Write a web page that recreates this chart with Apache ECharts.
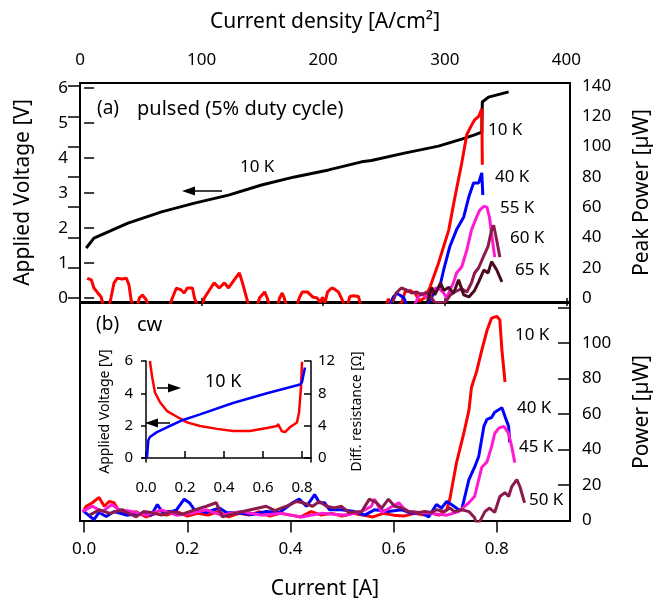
<!DOCTYPE html>
<html>
<head>
<meta charset="utf-8">
<script src="https://cdn.jsdelivr.net/npm/echarts@6.0.0/dist/echarts.min.js"></script>
<style>
  html, body { margin: 0; padding: 0; background: #fff; }
  #chart { width: 667px; height: 604px; }
</style>
</head>
<body>
<div id="chart"></div>
<script>
// tick labels
const densityTicks = [0, 100, 200, 300, 400];
const currentTicks = [0, 0.2, 0.4, 0.6, 0.8];
const voltTicks = [0, 1, 2, 3, 4, 5, 6];
const peakPowerTicks = [0, 20, 40, 60, 80, 100, 120, 140];
const cwPowerTicks = [0, 20, 40, 60, 80, 100, 120];
const cwPowerLabels = [0, 20, 40, 60, 80, 100];
const insetVoltTicks = [0, 2, 4, 6];
const insetResTicks = [0, 4, 8, 12];

// (a) pulsed: voltage at 10 K  [current A, voltage V]
const voltI = [0.004, 0.019, 0.085, 0.15, 0.214, 0.28, 0.344, 0.408, 0.474, 0.538, 0.557, 0.621, 0.687, 0.732, 0.757, 0.771, 0.772, 0.784, 0.823];
const voltV = [1.43, 1.71, 2.14, 2.46, 2.71, 2.94, 3.23, 3.46, 3.66, 3.89, 3.93, 4.14, 4.34, 4.54, 4.66, 4.74, 5.6, 5.74, 5.89];

// (a) pulsed peak power [current A, power uW]
const pulsed10K = [[0.006,13],[0.014,12],[0.019,6.6],[0.025,4],[0.033,0.7],[0.038,-6],[0.048,-6],[0.052,0],[0.058,10],[0.064,13],[0.074,12.5],[0.082,13],[0.087,8.6],[0.091,-1],[0.095,-6],[0.103,-6],[0.107,0],[0.113,2],[0.12,-1],[0.125,-6],[0.165,-6],[0.171,0],[0.179,6.6],[0.188,5.3],[0.194,3.3],[0.2,6.6],[0.21,6.6],[0.214,0],[0.22,-6],[0.228,-6],[0.233,0],[0.243,5.3],[0.252,10],[0.262,6.6],[0.272,10],[0.28,6.6],[0.291,12],[0.301,16.5],[0.307,10],[0.315,0],[0.32,-6],[0.335,-6],[0.34,0],[0.35,4],[0.355,0],[0.36,-6],[0.374,-6],[0.379,0],[0.384,3.3],[0.388,0],[0.393,-6],[0.412,-6],[0.417,0],[0.423,4],[0.433,4],[0.443,0.7],[0.452,0],[0.458,-3],[0.462,0.5],[0.467,-3],[0.472,4],[0.48,6.6],[0.485,6],[0.493,4],[0.5,-1],[0.506,-6],[0.51,-6],[0.515,1],[0.522,1.5],[0.532,1],[0.537,-6],[0.585,-6],[0.59,-0.5],[0.595,-6],[0.615,-4],[0.622,4],[0.632,5],[0.642,3],[0.65,-2],[0.66,0],[0.67,6.6],[0.687,23],[0.707,45],[0.718,65],[0.732,89],[0.742,108],[0.751,114],[0.757,117.6],[0.765,120],[0.771,125],[0.772,88]];
const pulsed40K = [[0.592,-5],[0.6,1],[0.606,3],[0.612,2],[0.62,0],[0.626,-5],[0.665,-5],[0.674,0.5],[0.68,5],[0.689,6.6],[0.697,18.5],[0.709,34],[0.722,45],[0.736,53.5],[0.746,67],[0.755,76],[0.765,76],[0.771,82.6],[0.773,68]];
const pulsed55K = [[0.64,-5],[0.648,0.7],[0.654,3.3],[0.664,0.5],[0.674,4],[0.683,6.6],[0.689,6],[0.697,3.3],[0.703,0],[0.709,5],[0.716,10],[0.722,16.5],[0.732,20.5],[0.742,31.7],[0.751,45],[0.761,53.5],[0.767,58],[0.775,60.5],[0.781,60],[0.786,53],[0.796,27]];
const pulsed60K = [[0.598,-3],[0.605,3.3],[0.615,6.6],[0.625,5.3],[0.635,3.3],[0.645,4],[0.654,2],[0.664,4],[0.672,1],[0.68,-3],[0.7,-3],[0.71,2],[0.718,4],[0.732,6],[0.742,4],[0.751,10],[0.757,16.5],[0.765,20],[0.775,28],[0.783,34],[0.79,45],[0.794,48],[0.8,38],[0.806,27]];
const pulsed65K = [[0.665,-3],[0.674,7],[0.68,2],[0.691,10],[0.697,5],[0.707,7],[0.716,3],[0.726,12],[0.736,2],[0.746,0.7],[0.757,5],[0.765,10.6],[0.775,18.5],[0.783,16.5],[0.79,24],[0.8,18.5],[0.81,10.6]];

// (b) cw power [current A, power uW]
const cw10K = [[0,6],[0.004,8],[0.016,10],[0.029,13],[0.039,8],[0.049,10.7],[0.058,10],[0.068,5],[0.082,3.4],[0.1,5],[0.12,2],[0.14,4],[0.16,3],[0.18,5],[0.2,2.5],[0.22,4],[0.24,3],[0.26,5],[0.28,2],[0.3,4],[0.32,3],[0.34,5],[0.36,2.5],[0.38,4],[0.4,3],[0.42,2],[0.44,5],[0.46,3],[0.48,4],[0.5,2.5],[0.52,4],[0.54,3],[0.56,2],[0.58,4],[0.6,3],[0.62,2.5],[0.64,4],[0.66,3],[0.674,4],[0.688,3],[0.703,6],[0.709,12],[0.722,32.6],[0.736,49],[0.746,62],[0.751,75],[0.761,84],[0.771,96],[0.781,107],[0.79,114],[0.8,115],[0.806,113],[0.81,96],[0.816,78]];
const cw40K = [[0,5],[0.019,0.5],[0.029,4.5],[0.043,2.2],[0.058,5],[0.082,3],[0.11,4],[0.13,3],[0.142,9],[0.151,5],[0.169,5],[0.179,6],[0.194,12],[0.204,10],[0.214,6],[0.237,4.5],[0.262,7],[0.276,4.5],[0.305,4],[0.326,3.4],[0.353,5],[0.379,4.5],[0.404,10],[0.417,12],[0.431,8],[0.447,14.6],[0.456,10],[0.466,10],[0.476,6],[0.499,6],[0.524,5],[0.544,3],[0.563,6],[0.59,5],[0.616,6],[0.635,4],[0.654,4.5],[0.668,2],[0.683,9],[0.693,7],[0.703,10.7],[0.717,8],[0.726,6],[0.732,6],[0.746,23],[0.757,30],[0.765,36],[0.775,53],[0.781,57],[0.79,58],[0.796,61],[0.81,63.5],[0.816,58.5],[0.823,53],[0.825,44]];
const cw45K = [[-0.004,5],[0.016,8],[0.035,5],[0.054,9],[0.068,6],[0.093,5],[0.12,3],[0.15,6],[0.179,3],[0.208,4],[0.237,6],[0.266,3],[0.305,5],[0.344,3],[0.383,4],[0.421,2],[0.46,4],[0.509,3],[0.538,5],[0.557,8],[0.563,12],[0.577,4.5],[0.61,10],[0.619,7],[0.629,5],[0.649,4.5],[0.674,4],[0.703,3],[0.726,5],[0.746,10],[0.757,13.5],[0.771,30],[0.781,33],[0.79,41.6],[0.796,49],[0.804,52],[0.814,53],[0.823,49],[0.829,41.6],[0.835,32.6]];
const cw50K = [[0.01,3],[0.03,6],[0.05,4],[0.074,6],[0.082,4.5],[0.101,2],[0.115,5],[0.13,4.5],[0.15,3],[0.17,5],[0.19,3.5],[0.214,6],[0.237,8],[0.256,10],[0.268,2],[0.299,4.5],[0.353,8],[0.37,5.5],[0.392,8],[0.412,10.7],[0.424,10],[0.443,8],[0.456,10.7],[0.47,8],[0.485,7],[0.499,8],[0.513,4.5],[0.538,5],[0.553,12],[0.567,10],[0.577,7],[0.59,12],[0.602,8],[0.616,7],[0.629,5],[0.649,4.5],[0.66,5],[0.674,4.5],[0.683,6],[0.699,5],[0.709,7],[0.718,5],[0.732,6],[0.746,5],[0.757,1.5],[0.762,-3],[0.77,1],[0.777,5],[0.786,7],[0.796,4.5],[0.806,13.5],[0.816,15.7],[0.823,13.5],[0.829,19],[0.839,23],[0.845,19],[0.852,11.8],[0.854,10]];

// inset: cw 10 K voltage and differential resistance
const insetVoltI = [0.005, 0.012, 0.02, 0.056, 0.108, 0.19, 0.277, 0.446, 0.62, 0.79, 0.8, 0.81, 0.815];
const insetVolt = [0, 1.1, 1.3, 1.6, 1.9, 2.35, 2.7, 3.4, 4.0, 4.55, 4.7, 5.3, 5.6];
const insetResI = [0.02, 0.031, 0.046, 0.072, 0.108, 0.159, 0.21, 0.277, 0.364, 0.446, 0.533, 0.62, 0.672, 0.677, 0.697, 0.713, 0.738, 0.774, 0.785, 0.795, 0.8];
const insetRes = [12, 10.1, 8.1, 6.9, 5.8, 5.1, 4.4, 3.95, 3.6, 3.33, 3.33, 3.7, 3.95, 4.2, 3.3, 3.2, 3.8, 4.4, 5.7, 8.9, 11.9];

const FONT = 'Noto Sans';
const zip = (xs, ys) => xs.map((x, i) => [x, ys[i]]);
const fmt1 = v => v.toFixed(1);

function line(data, color, xi, yi, width) {
  return {
    type: 'line', data, xAxisIndex: xi, yAxisIndex: yi,
    showSymbol: false, color, clip: true,
    lineStyle: { color, width: width || 3 },
  };
}

function text(str, x, y, size) {
  return {
    type: 'text', x, y, z: 100,
    style: { text: str, fill: '#000', font: `${size || 16}px "${FONT}"`, verticalAlign: 'middle' },
  };
}

function arrow(x1, x2, y) {
  const d = Math.sign(x2 - x1);
  return [
    { type: 'line', z: 100, shape: { x1, y1: y, x2: x2 - d * 8, y2: y }, style: { stroke: '#000', lineWidth: 1.5 } },
    { type: 'polygon', z: 100, shape: { points: [[x2, y], [x2 - d * 13, y - 4.5], [x2 - d * 13, y + 4.5]] }, style: { fill: '#000' } },
  ];
}

const tickLabel = { color: '#000', fontSize: 17, fontFamily: FONT };
const nameStyle = { color: '#000', fontSize: 21, fontFamily: FONT };
const insetName = { color: '#000', fontSize: 14, fontFamily: FONT };
const blackLine = { show: true, lineStyle: { color: '#000', width: 1.5 } };

const myChart = echarts.init(document.getElementById('chart'));

const option = {
  animation: false,
  backgroundColor: '#fff',
  textStyle: { fontFamily: FONT, color: '#000' },
  grid: [
    { left: 80, right: 97, top: 83, height: 219, show: true, borderColor: '#000', borderWidth: 2, backgroundColor: 'transparent' },
    { left: 80, right: 97, top: 303, height: 218, show: true, borderColor: '#000', borderWidth: 2, backgroundColor: 'transparent' },
    { left: 142, width: 169, top: 361, height: 101 },
  ],
  xAxis: [
    { gridIndex: 0, type: 'value', position: 'bottom', min: -0.008, max: 0.942,
      axisLine: { show: false }, axisTick: { show: false }, axisLabel: { show: false }, splitLine: { show: false } },
    { gridIndex: 0, type: 'value', position: 'top', min: 0, max: 403,
      name: 'Current density [A/cm²]', nameLocation: 'middle', nameGap: 50, nameTextStyle: nameStyle,
      axisLine: { show: false },
      axisTick: { inside: true, length: 8, customValues: densityTicks, lineStyle: { color: '#000', width: 1.5 } },
      axisLabel: Object.assign({ customValues: densityTicks, margin: 14 }, tickLabel),
      splitLine: { show: false } },
    { gridIndex: 1, type: 'value', position: 'bottom', min: -0.008, max: 0.942, offset: 4,
      name: 'Current [A]', nameLocation: 'middle', nameGap: 54, nameTextStyle: nameStyle,
      axisLine: { show: false },
      axisTick: { length: 12, customValues: currentTicks, lineStyle: { color: '#000', width: 1.5 } },
      axisLabel: Object.assign({ customValues: currentTicks, margin: 16, formatter: fmt1 }, tickLabel),
      splitLine: { show: false } },
    { gridIndex: 2, type: 'value', min: -0.0205, max: 0.846,
      axisLine: blackLine,
      axisTick: { inside: true, length: 7, customValues: currentTicks, lineStyle: { color: '#000', width: 1.5 } },
      axisLabel: Object.assign({ customValues: currentTicks, margin: 18, formatter: fmt1 }, tickLabel, { fontSize: 15 }),
      splitLine: { show: false } },
  ],
  yAxis: [
    { gridIndex: 0, type: 'value', position: 'left', min: -0.114, max: 6.143,
      name: 'Applied Voltage [V]', nameLocation: 'middle', nameGap: 46, nameTextStyle: nameStyle,
      axisLine: { show: false },
      axisTick: { inside: true, length: 10, customValues: voltTicks, lineStyle: { color: '#000', width: 1.5 } },
      axisLabel: Object.assign({ customValues: voltTicks, margin: 12 }, tickLabel),
      splitLine: { show: false } },
    { gridIndex: 0, type: 'value', position: 'right', min: -2.64, max: 141.98,
      name: 'Peak Power [µW]', nameLocation: 'middle', nameGap: 62, nameTextStyle: nameStyle,
      axisLine: { show: false },
      axisTick: { inside: true, length: 12, customValues: peakPowerTicks, lineStyle: { color: '#000', width: 1.5 } },
      axisLabel: Object.assign({ customValues: peakPowerTicks, margin: 12 }, tickLabel),
      splitLine: { show: false } },
    { gridIndex: 1, type: 'value', position: 'left', min: -0.3, max: 122.5,
      axisLine: { show: false }, axisTick: { show: false }, axisLabel: { show: false }, splitLine: { show: false } },
    { gridIndex: 1, type: 'value', position: 'right', min: -0.3, max: 122.5,
      name: 'Power [µW]', nameLocation: 'middle', nameGap: 62, nameTextStyle: nameStyle,
      axisLine: { show: false },
      axisTick: { inside: true, length: 12, customValues: cwPowerTicks, lineStyle: { color: '#000', width: 1.5 } },
      axisLabel: Object.assign({ customValues: cwPowerLabels, margin: 12 }, tickLabel),
      splitLine: { show: false } },
    { gridIndex: 2, type: 'value', position: 'left', min: -0.25, max: 6,
      name: 'Applied Voltage [V]', nameLocation: 'middle', nameGap: 30, nameTextStyle: insetName,
      axisLine: blackLine,
      axisTick: { length: 5, customValues: insetVoltTicks, lineStyle: { color: '#000', width: 1.5 } },
      axisLabel: Object.assign({ customValues: insetVoltTicks, margin: 9 }, tickLabel, { fontSize: 15 }),
      splitLine: { show: false } },
    { gridIndex: 2, type: 'value', position: 'right', min: -0.5, max: 12,
      name: 'Diff. resistance [Ω]', nameLocation: 'middle', nameGap: 39, nameTextStyle: insetName,
      axisLine: blackLine,
      axisTick: { inside: true, length: 7, customValues: insetResTicks, lineStyle: { color: '#000', width: 1.5 } },
      axisLabel: Object.assign({ customValues: insetResTicks, margin: 7 }, tickLabel, { fontSize: 15 }),
      splitLine: { show: false } },
  ],
  series: [
    line(zip(voltI, voltV), '#000000', 0, 0),
    line(pulsed10K, '#ff0000', 0, 1),
    line(pulsed40K, '#0000ff', 0, 1),
    line(pulsed55K, '#ff1ad2', 0, 1),
    line(pulsed60K, '#8c1a4c', 0, 1),
    line(pulsed65K, '#4a0a20', 0, 1),
    line(cw10K, '#ff0000', 2, 3),
    line(cw40K, '#0000ff', 2, 3),
    line(cw45K, '#ff1ad2', 2, 3),
    line(cw50K, '#8c1a4c', 2, 3),
    line(zip(insetResI, insetRes), '#ff0000', 3, 5, 2.5),
    line(zip(insetVoltI, insetVolt), '#0000ff', 3, 4, 2.5),
  ],
  graphic: [
    text('(a)', 97, 109, 19),
    text('pulsed (5% duty cycle)', 137, 109, 20),
    text('10 K', 240, 167, 17),
    ...arrow(222, 182, 191),
    text('10 K', 488, 130, 17),
    text('40 K', 495, 177, 17),
    text('55 K', 500, 208, 17),
    text('60 K', 510, 238, 17),
    text('65 K', 515, 270, 17),
    text('(b)', 96, 325, 19),
    text('cw', 137, 325, 20),
    text('10 K', 205, 382, 18),
    ...arrow(157, 181, 388),
    ...arrow(170, 145, 423),
    text('10 K', 515, 335, 17),
    text('40 K', 517, 408, 17),
    text('45 K', 519, 447, 17),
    text('50 K', 529, 500, 17),
  ],
};

myChart.setOption(option);
</script>
</body>
</html>
